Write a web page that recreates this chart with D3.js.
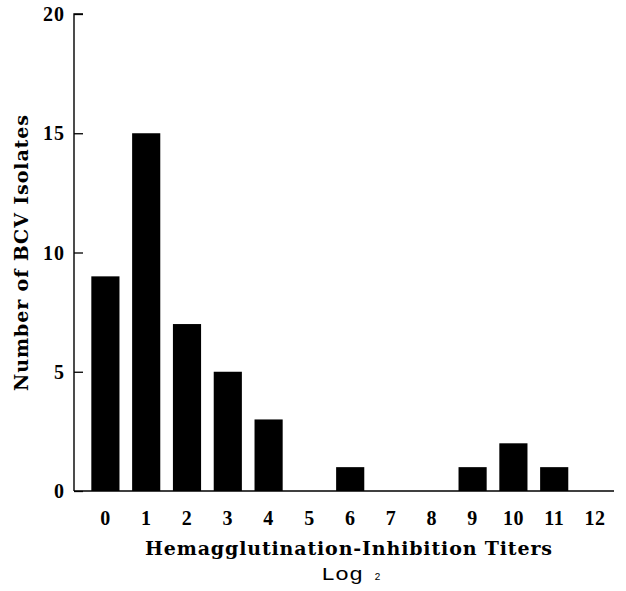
<!DOCTYPE html>
<html><head><meta charset="utf-8">
<script src="https://cdn.jsdelivr.net/npm/d3@7"></script>
<style>body{margin:0;background:#fff}svg{display:block}</style>
</head><body>
<svg id="c" width="626" height="591"></svg>
<script>
const categories = ["0","1","2","3","4","5","6","7","8","9","10","11","12"];
const counts = [9,15,7,5,3,0,1,0,0,1,2,1,0];
const yTicks = [0,5,10,15,20];
const xTitle = "Hemagglutination-Inhibition Titers";
const yTitle = "Number of BCV Isolates";

const svg = d3.select("#c");
const x = d3.scaleBand().domain(categories).range([85, 615.4]).paddingInner(0.31).paddingOuter(0.155);
const y = d3.scaleLinear().domain([0,20]).range([491,14]);
const font = "'Liberation Serif', 'Times New Roman', serif";
const tfont = "'DejaVu Serif', 'Liberation Serif', serif";

// bars
svg.append("g").selectAll("rect").data(categories.map((c,i)=>({c,v:counts[i]})).filter(d=>d.v>0))
  .join("rect")
  .attr("x", d=>x(d.c)).attr("width", x.bandwidth())
  .attr("y", d=>y(d.v)).attr("height", d=>y(0)-y(d.v))
  .attr("fill","#000");

// y axis
const ya = svg.append("g").attr("transform","translate(74,0)")
  .call(d3.axisRight(y).tickValues(yTicks).tickSize(9).tickFormat(""));
ya.select(".domain").attr("d", `M9,${y(20)}H0V${y(0)}`).attr("stroke","#000").attr("stroke-width",1.4);
ya.selectAll(".tick line").attr("stroke","#000").attr("stroke-width",1.3);
svg.append("g").selectAll("text").data(yTicks).join("text")
  .attr("x",65).attr("y",d=>y(d)).attr("dy","0.35em")
  .attr("text-anchor","end").attr("font-family",font).attr("font-weight","bold")
  .attr("font-size",20).attr("letter-spacing","1px").text(d=>d);

// x axis
svg.append("line").attr("x1",74).attr("x2",614).attr("y1",491).attr("y2",491)
  .attr("stroke","#000").attr("stroke-width",1.4);
svg.append("g").selectAll("text").data(categories).join("text")
  .attr("x",d=>x(d)+x.bandwidth()/2).attr("y",525)
  .attr("text-anchor","middle").attr("font-family",font).attr("font-weight","bold")
  .attr("font-size",20).attr("letter-spacing","0.5px").text(d=>d);

// titles
svg.append("text").attr("x",145).attr("y",555)
  .attr("font-family",tfont).attr("font-weight","bold").attr("font-size",19)
  .attr("textLength",407).attr("lengthAdjust","spacing").text(xTitle);
svg.append("text").attr("x",321).attr("y",580)
  .attr("font-family","'Liberation Mono', 'Courier New', monospace").attr("font-size",19)
  .attr("textLength",42).attr("lengthAdjust","spacingAndGlyphs").text("Log");
svg.append("text").attr("x",374.5).attr("y",580)
  .attr("font-family","'Liberation Mono', monospace").attr("font-size",10).text("2");

svg.append("text").attr("transform","translate(28,391) rotate(-90)")
  .attr("font-family",tfont).attr("font-weight","bold")
  .attr("font-size",19).attr("textLength",276).attr("lengthAdjust","spacing").text(yTitle);
</script>
</body></html>
